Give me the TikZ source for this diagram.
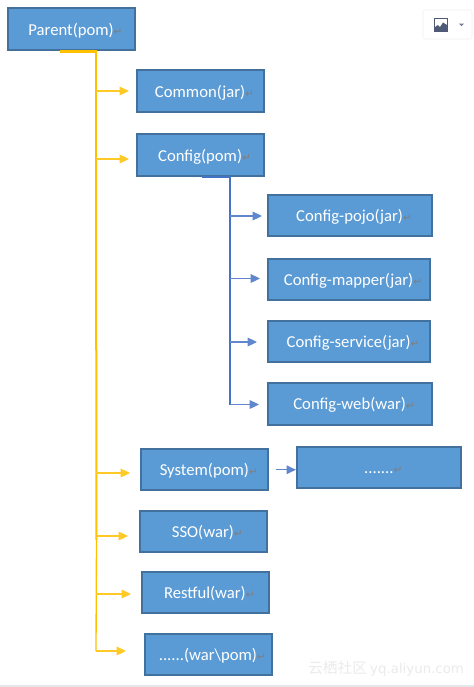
\documentclass[tikz,border=0pt]{standalone}
\usepackage{fontspec}
\setmainfont{Carlito}
\newfontfamily\retfont{DejaVu Sans}
\newfontfamily\cjkfont{Noto Sans CJK SC}
\usetikzlibrary{arrows.meta,calc,positioning}
\definecolor{PMFill}{HTML}{5B9BD5}
\definecolor{PMEdge}{HTML}{41719C}
\definecolor{PMGold}{HTML}{FFC000}
\definecolor{PMBlue}{HTML}{4472C4}
\definecolor{PMMark}{HTML}{7F7F7F}
\definecolor{PMIcon}{HTML}{4F5B76}
\DeclareRobustCommand{\retmark}{{\retfont\fontsize{8}{9}\selectfont\textcolor{PMMark}{↵}}}
\tikzset{
  pmBox/.style={
    rectangle, draw=PMEdge, fill=PMFill, line width=1.5pt,
    align=center, text=white, minimum width=#1, minimum height=31pt,
    inner sep=0pt, text height=12pt, text depth=3pt, font=\fontsize{12.5}{14}\selectfont,
    execute at begin node={\hspace*{6.5pt}}
  },
  pmBox/.default=95.2pt,
  pmGoldTrunk/.style={draw=PMGold, line width=#1},
  pmBlueTrunk/.style={draw=PMBlue, line width=#1},
  pmGoldArrow/.style={-{Triangle[length=7pt,width=6.5pt]}, draw=PMGold!85, fill=PMGold, line width=0.8pt},
  pmBlueArrow/.style={-{Triangle[length=7pt,width=6.5pt]}, draw=PMBlue!85, fill=PMBlue, line width=0.8pt}
}

\begin{document}
\begin{tikzpicture}[x=0.75pt,y=-0.75pt]
  \useasboundingbox (0,0) rectangle (474,687);
  \fill[white] (0,0) rectangle (474,687);
  \fill[PMIcon!15] (0,685) rectangle (474,687);

  % image button
  \draw[black!6, fill=white, rounded corners=1.5pt] (423,10) rectangle (472,39);
  \draw[PMIcon, line width=0.7pt] (434.5,18.5) rectangle (447.5,31.5);
  \fill[PMIcon] (435,31) -- (435,27) -- (438,25) -- (440,27) -- (443,22.5) -- (447,25) -- (447,31) -- cycle;
  \fill[PMIcon!80] (459,23.5) -- (464,23.5) -- (461.5,26) -- cycle;

  \node[pmBox] (parent) at (71.25,29) {Parent(pom)\retmark};
  \node[pmBox] (common) at (200.25,91) {Common(jar)\retmark};
  \node[pmBox, below=15.6pt of common] (config) {Config(pom)\retmark};
  \node[pmBox=123.2pt] (pojo) at (349.75,215.5) {Config-pojo(jar)\retmark};
  \node[pmBox=121.7pt, below=15.6pt of pojo, xshift=-0.75pt] (mapper) {Config-mapper(jar)\retmark};
  \node[pmBox=121.7pt, below=14.1pt of mapper] (service) {Config-service(jar)\retmark};
  \node[pmBox=123.2pt, below=14.1pt of service, xshift=0.75pt] (web) {Config-web(war)\retmark};
  \node[pmBox] (system) at (204.5,469.75) {System(pom)\retmark};
  \node[pmBox=123.2pt, right=20.2pt of system, yshift=1.5pt] (more) {.......\retmark};
  \node[pmBox, below=13.7pt of system, xshift=-1.1pt] (sso) {SSO(war)\retmark};
  \node[pmBox, below=13.2pt of sso, xshift=1.5pt] (restful) {Restful(war)\retmark};
  \node[pmBox, below=14.2pt of restful, xshift=2.25pt] (warpom) {......(war\textbackslash pom)\retmark};

  \node[text=black!8, inner sep=0pt, anchor=west, font=\fontsize{11}{13}\selectfont] (mark) at (308,669)
    {{\cjkfont 云栖社区} {\retfont\fontsize{10}{12}\selectfont yq.aliyun.com}};

  \coordinate (goldMid) at (96,160);
  \coordinate (goldLow) at (96.5,540);
  \coordinate (goldEnd) at (96,651);
  \coordinate (blueMid) at (230,280);
  \coordinate (blueEnd) at (230,404.5);

  \draw[pmGoldTrunk=2.2pt] ($(parent.south)+(-11,1)$) -| (goldMid);
  \draw[pmGoldTrunk=1.5pt] (goldMid) -- (goldLow);
  \draw[pmGoldTrunk=1pt] (goldLow) -- (goldEnd);
  \draw[pmGoldArrow] (goldMid |- 0,91) -- (129,91);
  \draw[pmGoldArrow] (goldMid |- 0,159) -- (129,159);
  \draw[pmGoldArrow] (goldMid |- 0,473) -- (130,473);
  \draw[pmGoldArrow] (goldMid |- 0,536) -- (128,536);
  \draw[pmGoldArrow] (goldMid |- 0,594) -- (131,594);
  \draw[pmGoldArrow] (goldEnd) -- (126,651);

  \draw[pmBlueTrunk=1.6pt] ($(config.south)+(2,0.5)$) -| (blueMid);
  \draw[pmBlueTrunk=0.9pt] (blueMid) -- (blueEnd);
  \draw[pmBlueArrow] (blueMid |- 0,216) -- (262,216);
  \draw[pmBlueArrow] (blueMid |- 0,278.5) -- (260,278.5);
  \draw[pmBlueArrow] (blueMid |- 0,342) -- (257,342);
  \draw[pmBlueArrow] (blueEnd) -- (259,404.5);
  \draw[pmBlueArrow, shorten <=5pt] (system.east) -- (system.east -| more.west);
\end{tikzpicture}
\end{document}
